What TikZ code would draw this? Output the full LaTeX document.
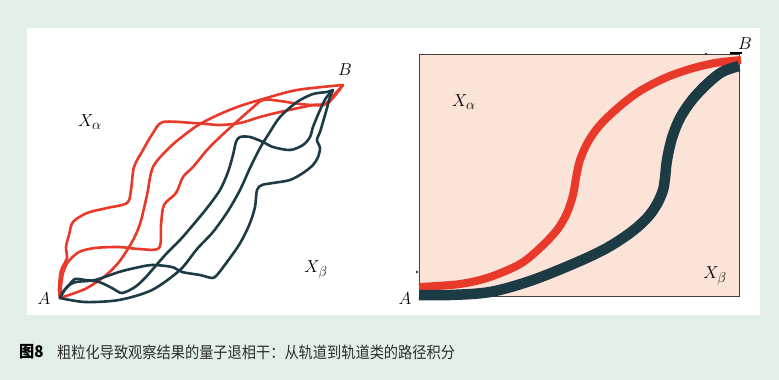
\documentclass[tikz,border=0pt]{standalone}
\usepackage{fontspec}
\newfontfamily\cjk{Noto Sans CJK SC}
\definecolor{bggreen}{HTML}{E2EFE7}
\definecolor{pathred}{HTML}{E8392A}
\definecolor{pathdark}{HTML}{1C3B45}
\definecolor{panelpink}{HTML}{FBE3D8}
\definecolor{captiongray}{HTML}{2E2E2E}
\tikzset{
  lbl/.style={inner sep=0pt, font=\fontsize{19}{22}\selectfont},
  thinred/.style={draw=pathred, line width=2.6pt, line join=round, line cap=round},
  thindark/.style={draw=pathdark, line width=2.6pt, line join=round, line cap=round},
  thickred/.style={draw=pathred, line width=8pt},
  thickdark/.style={draw=pathdark, line width=10.5pt},
  captionstyle/.style={inner sep=0pt, anchor=west, font=\cjk\fontsize{16}{18}\selectfont}
}
\begin{document}
\begin{tikzpicture}[x=1pt,y=-1pt]
\useasboundingbox (0,0) rectangle (779,380);
\fill[bggreen] (0,0) rectangle (779,380);
\fill[white] (27,28) rectangle (760,315);

% ---------- left panel ----------
\coordinate (A) at (60,298);
\coordinate (B) at (343,85);

% red paths
\draw[thinred] plot[smooth, tension=0.5] coordinates {(60,298) (85,289) (105,276) (119,262) (132,242) (140,224) (147,195) (153,167) (170,147) (187,133) (200,124) (220,114) (240,106) (263,99) (297,90) (343,85)};
\draw[thinred] plot[smooth, tension=0.5] coordinates {(60,298) (59,290) (60,276) (62,268) (67,258) (66,247) (69,235) (73,222) (87,213) (107,208) (127,203) (131,190) (134,167) (143,150) (153,133) (163,122) (193,123) (207,124) (220,125) (240,123) (260,117) (280,112) (313,105) (328,103) (343,85)};
\draw[thinred] plot[smooth, tension=0.5] coordinates {(60,298) (61,286) (63,273) (68,262) (79,252) (95,248) (119,247) (139,249) (159,248) (161,225) (164,205) (176,193) (183,177) (193,167) (207,150) (220,137) (232,126) (250,110) (263,100) (280,101) (300,104) (323,105) (332,97) (343,85)};

% dark paths
\draw[thindark] plot[smooth, tension=0.5] coordinates {(60,298) (85,302) (119,300) (152,290) (180,270) (197,249) (213,232) (228,211) (240,190) (250,168) (260,148) (268,135) (280,117) (297,102) (313,94) (327,92) (333,90)};
\draw[thindark] plot[smooth, tension=0.5] coordinates {(60,298) (64,291) (69,285) (75,279) (85,280) (99,282) (112,288) (122,293) (135,287) (145,278) (159,262) (167,253) (180,240) (193,225) (207,208) (220,190) (228,172) (233,155) (236,142) (240,137) (250,137) (263,142) (273,147) (290,150) (303,145) (310,137) (313,127) (320,110) (326,98) (333,90)};
\draw[thindark] plot[smooth, tension=0.5] coordinates {(60,298) (63,292) (68,286) (76,282) (95,280) (119,272) (135,268) (152,265) (172,267) (182,272) (200,275) (212,278) (217,275) (227,262) (237,248) (243,238) (250,223) (255,207) (257,190) (262,185) (273,183) (290,180) (303,173) (313,165) (318,157) (320,148) (317,140) (320,132) (323,122) (327,108) (330,97) (333,90)};

\node[lbl] (lA) at (44,299) {$A$};
\node[lbl] (lB) at (345,70) {$B$};
\node[lbl] (lXa) at (90,122) {$X_\alpha$};
\node[lbl] (lXb) at (316,270) {$X_\beta$};

% ---------- right panel ----------
\draw[fill=panelpink, draw=black!75, line width=0.8pt] (419,54) rectangle (739,296);
\draw[thickred] plot[smooth, tension=0.55] coordinates {(419,287) (460,284) (490,277) (520,264) (540,248) (557,230) (567,213) (573,195) (576,178) (580,160) (588,142) (600,125) (620,106) (640,91) (665,78) (690,69) (715,63) (741,60)};
\draw[thickdark] plot[smooth, tension=0.55] coordinates {(419,295) (450,295) (490,292) (530,281) (573,264) (605,249) (630,233) (647,218) (657,204) (663,190) (665,178) (667,160) (672,138) (680,118) (692,100) (707,84) (722,72) (739,66)};
\draw[black, line width=2.2pt] (730,53) -- (742,53);
\fill[pathdark] (706,54) circle (1.3pt);
\fill[pathdark] (417,272) circle (1.3pt);

\node[lbl] (rA) at (405,299) {$A$};
\node[lbl] (rB) at (745,44) {$B$};
\node[lbl] (rXa) at (464,102) {$X_\alpha$};
\node[lbl] (rXb) at (715,276) {$X_\beta$};

% ---------- caption ----------
\node[captionstyle, text=black] (fig) at (19,352) {\scalebox{0.95}[1]{\bfseries 图8}};
\node[captionstyle, text=captiongray] (cap) at (57,352) {\scalebox{0.888}[1]{粗粒化导致观察结果的量子退相干：从轨道到轨道类的路径积分}};
\end{tikzpicture}
\end{document}
